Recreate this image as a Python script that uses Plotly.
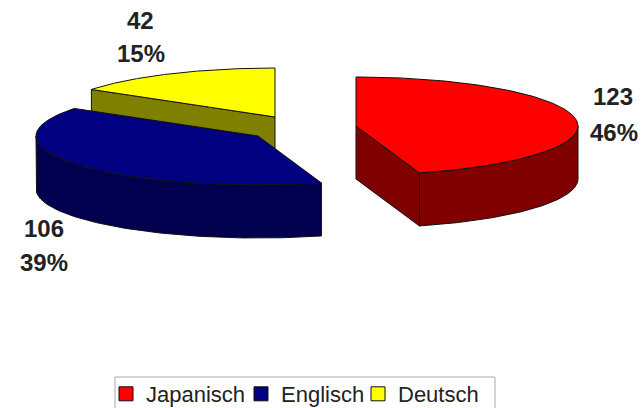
import numpy as np
import plotly.graph_objects as go

# Data
categories = ["Japanisch", "Englisch", "Deutsch"]
values = [123, 106, 42]
percent_labels = ["46%", "39%", "15%"]

# Styles and layout
top_colors = ["#FF0000", "#000080", "#FFFF00"]
side_colors = ["#800000", "#00004E", "#808000"]
centers = [(356, 126), (258, 136), (275, 117)]
value_pos = [(613, 96), (44, 228), (140, 20)]
pct_pos = [(614, 132), (44, 262), (141, 53)]
legend_x = [106, 241, 358]
draw_order = [2, 1, 0]
RX, RY, DEPTH = 222, 49, 53

total = sum(values)
ends = np.cumsum(values) / total * 360
starts = np.concatenate([[0], ends[:-1]])


def rim(c, a):
    t = np.radians(a)
    return c[0] + RX * np.sin(t), c[1] - RY * np.cos(t)


def poly(color, pts):
    xs, ys = zip(*pts)
    return go.Scatter(
        x=list(xs) + [xs[0]], y=list(ys) + [ys[0]], mode="lines", fill="toself",
        fillcolor=color, line=dict(color="#101010", width=1),
        hoverinfo="skip", showlegend=False,
    )


fig = go.Figure()
for i in draw_order:
    c, s, e = centers[i], starts[i], ends[i]
    side, top = side_colors[i], top_colors[i]
    # radial faces that point towards the viewer
    if np.sin(np.radians(s)) < -1e-6:
        p = rim(c, s)
        fig.add_trace(poly(side, [c, p, (p[0], p[1] + DEPTH), (c[0], c[1] + DEPTH)]))
    if np.sin(np.radians(e)) > 1e-6:
        p = rim(c, e)
        fig.add_trace(poly(side, [c, p, (p[0], p[1] + DEPTH), (c[0], c[1] + DEPTH)]))
    # front part of the outer wall
    lo, hi = max(s, 90), min(e, 270)
    if hi > lo:
        arc = [rim(c, a) for a in np.linspace(lo, hi, 80)]
        low = [(x, y + DEPTH) for x, y in reversed(arc)]
        fig.add_trace(poly(side, arc + low))
    # top face
    arc = [rim(c, a) for a in np.linspace(s, e, 160)]
    fig.add_trace(poly(top, [c] + arc))

# legend entries, one small legend each so they can sit where the reference has them
legend_ids = ["legend", "legend2", "legend3"]
for name, color, lid in zip(categories, top_colors, legend_ids):
    fig.add_trace(go.Scatter(
        x=[None], y=[None], mode="markers", name=name, legend=lid,
        marker=dict(symbol="square", size=14, color=color, line=dict(color="#101010", width=1)),
    ))

label_font = dict(family="Liberation Sans", size=24, color="#222222")
for v, pct, vp, pp in zip(values, percent_labels, value_pos, pct_pos):
    fig.add_annotation(x=vp[0], y=vp[1], text=f"<b>{v}</b>", showarrow=False, font=label_font)
    fig.add_annotation(x=pp[0], y=pp[1], text=f"<b>{pct}</b>", showarrow=False, font=label_font)

fig.add_shape(type="rect", x0=115, x1=495, y0=377, y1=420,
              line=dict(color="#A8A8A8", width=1), fillcolor="white", layer="below")

layout_legends = {
    lid: dict(
        x=lx / 643, xanchor="left", y=1 - 373 / 408, yanchor="top",
        font=dict(family="Liberation Sans", size=22, color="#222222"),
        bgcolor="rgba(0,0,0,0)", borderwidth=0,
    )
    for lid, lx in zip(legend_ids, legend_x)
}

fig.update_layout(
    width=643, height=408, margin=dict(l=0, r=0, t=0, b=0, autoexpand=False),
    paper_bgcolor="white", plot_bgcolor="white",
    xaxis=dict(range=[0, 643], visible=False, fixedrange=True),
    yaxis=dict(range=[408, 0], visible=False, fixedrange=True),
    **layout_legends,
)
fig.write_html(
    "out.html",
    config={"displayModeBar": False},
    post_script="document.body.style.margin='0';document.body.style.overflow='hidden';",
)
